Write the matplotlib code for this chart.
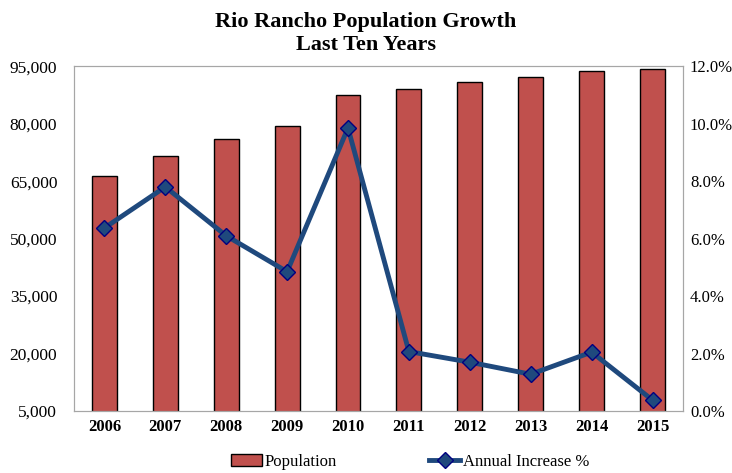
import numpy as np
import matplotlib.pyplot as plt
from matplotlib.ticker import FuncFormatter

years = ["2006", "2007", "2008", "2009", "2010", "2011", "2012", "2013", "2014", "2015"]
population = [66300, 71500, 75900, 79400, 87400, 89000, 90800, 92100, 93700, 94200]
increase_pct = [6.37, 7.80, 6.10, 4.85, 9.85, 2.07, 1.70, 1.28, 2.05, 0.38]

plt.rcParams['font.family'] = ['Liberation Serif', 'DejaVu Serif']

fig = plt.figure(figsize=(7.32, 4.73), dpi=100)
ax = fig.add_axes([0.101, 0.131, 0.832, 0.729])

x = np.arange(len(years))
bars = ax.bar(x, population, width=0.41, color="#C0504D", edgecolor="black",
              linewidth=1.0, label="Population", zorder=2)

ax.set_xlim(-0.5, len(years) - 0.5)
ax.set_ylim(5000, 95000)
ax.set_yticks(np.arange(5000, 95001, 15000))
ax.yaxis.set_major_formatter(FuncFormatter(lambda v, p: f"{int(v):,}"))
ax.set_xticks(x)
ax.set_xticklabels(years, fontweight="bold", fontsize=12)
ax.tick_params(axis="y", labelsize=12.5, length=0, pad=12)
ax.tick_params(axis="x", length=0, pad=6)
for s in ax.spines.values():
    s.set_color("#A6A6A6")

ax2 = ax.twinx()
line, = ax2.plot(x, increase_pct, color="#1F497D", linewidth=3.5, marker="D",
                 markersize=8, markerfacecolor="#1F497D", markeredgecolor="#000080",
                 markeredgewidth=1.0, label="Annual Increase %", zorder=3)
ax2.set_ylim(0, 12)
ax2.set_yticks(np.arange(0, 12.1, 2))
ax2.yaxis.set_major_formatter(FuncFormatter(lambda v, p: f"{v:.1f}%"))
ax2.tick_params(axis="y", labelsize=12, length=0, pad=5)
for s in ax2.spines.values():
    s.set_color("#A6A6A6")

fig.suptitle("Rio Rancho Population Growth\nLast Ten Years", fontsize=16,
             fontweight="bold", y=0.975, linespacing=1.2)

fig.legend([bars, line], ["Population", "Annual Increase %"], loc="lower center",
           bbox_to_anchor=(0.56, -0.025), ncol=2, frameon=False, fontsize=12,
           columnspacing=5.5, handlelength=1.9, handletextpad=0.15)

fig.savefig("out.png", dpi=100)
